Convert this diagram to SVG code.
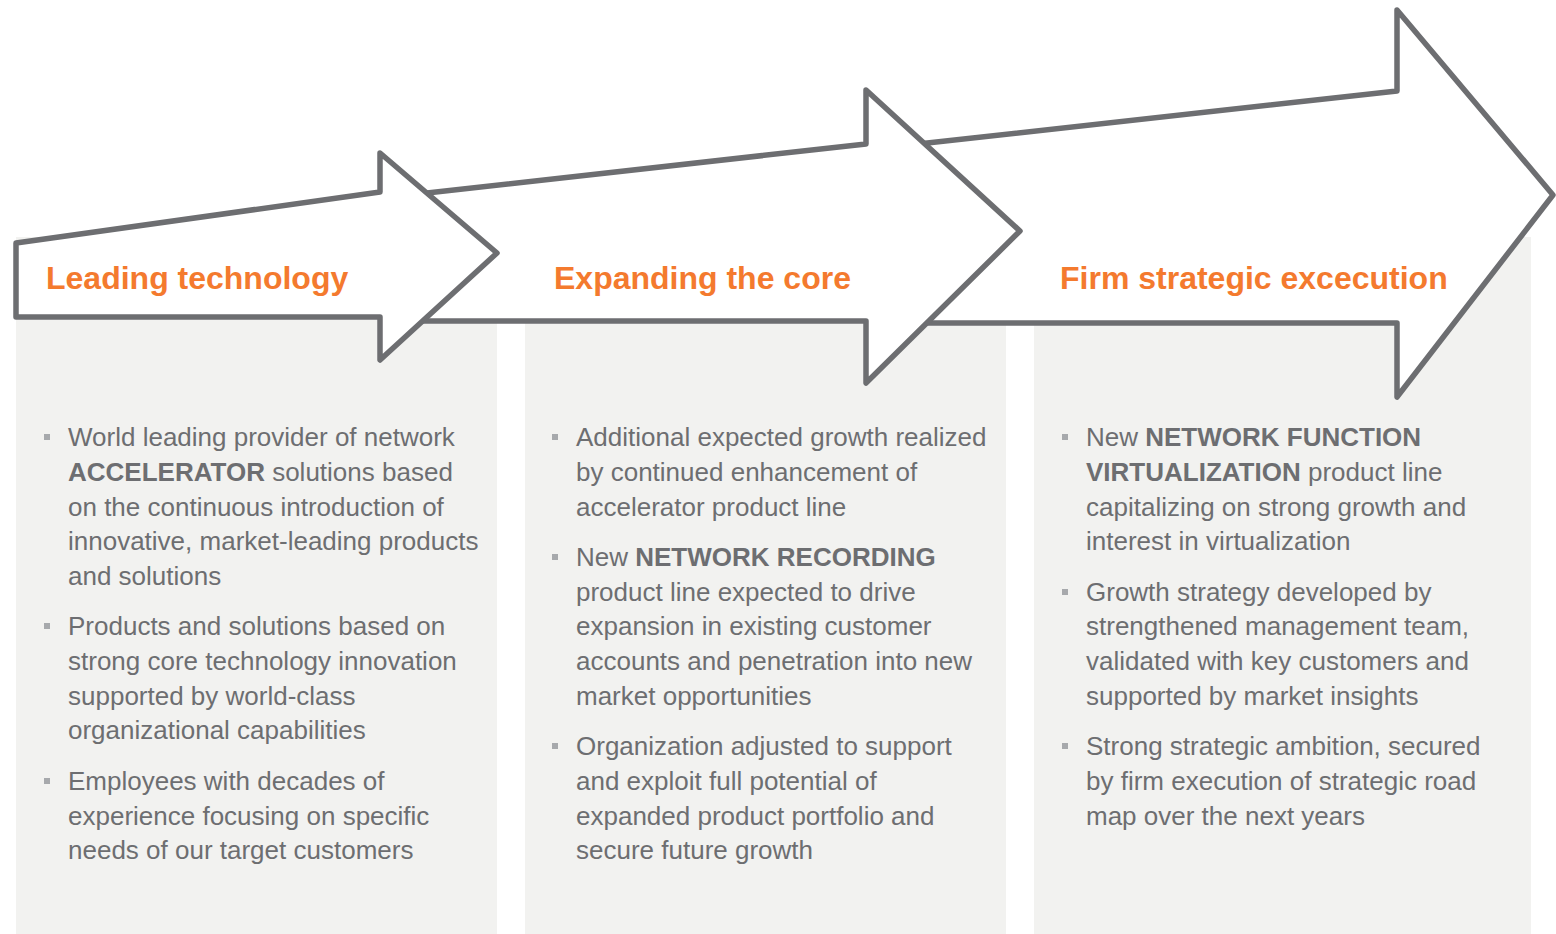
<svg xmlns="http://www.w3.org/2000/svg" width="1556" height="934" viewBox="0 0 1556 934">
<style>
.panel{fill:#f2f2f0}
.arrow{fill:#ffffff;stroke:#6d6e71;stroke-width:5.5;stroke-linejoin:round}
.title{font-family:"Liberation Sans",Arial,sans-serif;font-weight:bold;font-size:32px;fill:#f47a2e}
.body{font-family:"Liberation Sans",Arial,sans-serif;font-size:26px;fill:#6d6e71}
.body .b{font-weight:bold}
.bullet{fill:#a7a9ac}
</style>
<rect width="1556" height="934" fill="#ffffff"/>
<g id="panels">
<rect class="panel" x="16" y="237" width="481" height="697"/>
<rect class="panel" x="525" y="237" width="481" height="697"/>
<rect class="panel" x="1034" y="237" width="497" height="697"/>
</g>
<g id="stage3">
<path class="arrow" d="M900,146 L1397,91 L1397,10 L1553,195 L1397,397 L1397,323 L900,323 Z"/>
<text class="title" x="1060" y="289">Firm strategic excecution</text>
<rect class="bullet" x="1062" y="434" width="6" height="6"/>
<rect class="bullet" x="1062" y="589" width="6" height="6"/>
<rect class="bullet" x="1062" y="743" width="6" height="6"/>
<text class="body">
<tspan x="1086" y="446">New <tspan class="b">NETWORK FUNCTION</tspan></tspan>
<tspan x="1086" y="481"><tspan class="b">VIRTUALIZATION</tspan> product line</tspan>
<tspan x="1086" y="516">capitalizing on strong growth and</tspan>
<tspan x="1086" y="550">interest in virtualization</tspan>
<tspan x="1086" y="601">Growth strategy developed by</tspan>
<tspan x="1086" y="635">strengthened management team,</tspan>
<tspan x="1086" y="670">validated with key customers and</tspan>
<tspan x="1086" y="705">supported by market insights</tspan>
<tspan x="1086" y="755">Strong strategic ambition, secured</tspan>
<tspan x="1086" y="790">by firm execution of strategic road</tspan>
<tspan x="1086" y="825">map over the next years</tspan>
</text>
</g>
<g id="stage2">
<path class="arrow" d="M400,196 L866,144 L866,90 L1020,231 L866,383 L866,321 L400,321 Z"/>
<text class="title" x="554" y="289">Expanding the core</text>
<rect class="bullet" x="552" y="434" width="6" height="6"/>
<rect class="bullet" x="552" y="554" width="6" height="6"/>
<rect class="bullet" x="552" y="743" width="6" height="6"/>
<text class="body">
<tspan x="576" y="446">Additional expected growth realized</tspan>
<tspan x="576" y="481">by continued enhancement of</tspan>
<tspan x="576" y="516">accelerator product line</tspan>
<tspan x="576" y="566">New <tspan class="b">NETWORK RECORDING</tspan></tspan>
<tspan x="576" y="601">product line expected to drive</tspan>
<tspan x="576" y="635">expansion in existing customer</tspan>
<tspan x="576" y="670">accounts and penetration into new</tspan>
<tspan x="576" y="705">market opportunities</tspan>
<tspan x="576" y="755">Organization adjusted to support</tspan>
<tspan x="576" y="790">and exploit full potential of</tspan>
<tspan x="576" y="825">expanded product portfolio and</tspan>
<tspan x="576" y="859">secure future growth</tspan>
</text>
</g>
<g id="stage1">
<path class="arrow" d="M16,243 L380,192 L380,153 L497,253 L380,360 L380,317 L16,317 Z"/>
<text class="title" x="46" y="289">Leading technology</text>
<rect class="bullet" x="44" y="434" width="6" height="6"/>
<rect class="bullet" x="44" y="623" width="6" height="6"/>
<rect class="bullet" x="44" y="778" width="6" height="6"/>
<text class="body">
<tspan x="68" y="446">World leading provider of network</tspan>
<tspan x="68" y="481"><tspan class="b">ACCELERATOR</tspan> solutions based</tspan>
<tspan x="68" y="516">on the continuous introduction of</tspan>
<tspan x="68" y="550">innovative, market-leading products</tspan>
<tspan x="68" y="585">and solutions</tspan>
<tspan x="68" y="635">Products and solutions based on</tspan>
<tspan x="68" y="670">strong core technology innovation</tspan>
<tspan x="68" y="705">supported by world-class</tspan>
<tspan x="68" y="739">organizational capabilities</tspan>
<tspan x="68" y="790">Employees with decades of</tspan>
<tspan x="68" y="825">experience focusing on specific</tspan>
<tspan x="68" y="859">needs of our target customers</tspan>
</text>
</g>
<g id="connectors"/>
</svg>
